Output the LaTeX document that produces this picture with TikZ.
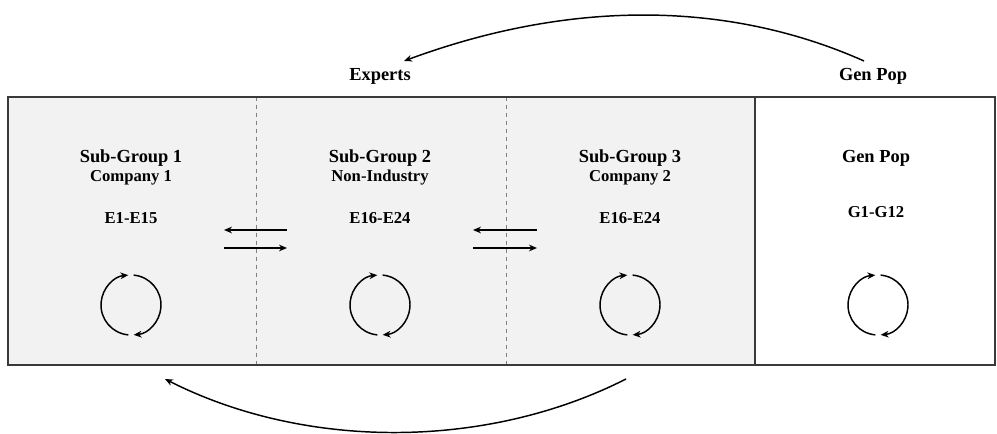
\documentclass[tikz,border=0pt]{standalone}
\usepackage{fontspec}
\setmainfont{Liberation Serif}
\usepackage[dvipsnames, svgnames]{xcolor}
\usepackage{tikz}
\usetikzlibrary{arrows.meta, positioning}

\definecolor{panelgray}{HTML}{F2F2F2}
\definecolor{framegray}{HTML}{3A3A3A}
\definecolor{dashgray}{HTML}{808080}

\tikzset{
  head/.style={font=\bfseries\fontsize{13.8}{16}\selectfont, inner sep=1pt},
  subhead/.style={font=\bfseries\fontsize{12.5}{15}\selectfont, inner sep=1pt},
  flow/.style={line width=1.1pt, -{Stealth[length=6pt, width=5pt]}},
  cyc/.style={line width=1.1pt, -{Stealth[length=6pt, width=5pt]}},
}

\begin{document}
\begin{tikzpicture}[x=0.75pt, y=-0.75pt]
  \useasboundingbox (0,0) rectangle (997,434);

  % panels: experts part is gray, gen pop part stays white
  \fill[panelgray] (8,97) rectangle (755,365);
  \draw[dashgray, dashed, line width=0.6pt] (256,97) -- (256,365);
  \draw[dashgray, dashed, line width=0.6pt] (506,97) -- (506,365);
  \draw[framegray, line width=0.8pt] (755,97) -- (755,365);
  \draw[framegray, line width=1.4pt] (8,97) rectangle (995,365);

  % group labels
  \node[head] (sg1) at (131,158) {Sub-Group 1};
  \node[subhead] (co1) at (131,178) {Company 1};
  \node[subhead] (ex1) at (131,218) {E1-E15};

  \node[head] (sg2) at (380,158) {Sub-Group 2};
  \node[subhead] (co2) at (380,178) {Non-Industry};
  \node[subhead] (ex2) at (380,218) {E16-E24};

  \node[head] (sg3) at (630,158) {Sub-Group 3};
  \node[subhead] (co3) at (630,178) {Company 2};
  \node[subhead] (ex3) at (630,218) {E16-E24};

  \node[head] (gp) at (876,158) {Gen Pop};
  \node[subhead] (gpid) at (876,212) {G1-G12};

  % top labels
  \node[head] (experts) at (380,76) {Experts};
  \node[head] (gptop) at (873,76) {Gen Pop};

  % cycles
  \foreach \cx/\nm in {131/c1, 380/c2, 630/c3, 878/c4} {
    \coordinate (\nm) at (\cx,305);
    \draw[cyc] (\nm) ++(265:22.5pt) arc[start angle=265, end angle=95, radius=22.5pt];
    \draw[cyc] (\nm) ++(85:22.5pt) arc[start angle=85, end angle=-85, radius=22.5pt];
  }

  % exchange arrows
  \coordinate (a1r) at (287,230); \coordinate (a1l) at (224,230);
  \coordinate (b1l) at (224,248); \coordinate (b1r) at (287,248);
  \coordinate (a2r) at (537,230); \coordinate (a2l) at (473,230);
  \coordinate (b2l) at (473,248); \coordinate (b2r) at (537,248);
  \draw[flow] (a1r) -- (a1l);
  \draw[flow] (b1l) -- (b1r);
  \draw[flow] (a2r) -- (a2l);
  \draw[flow] (b2l) -- (b2r);

  % big curves
  \coordinate (topfrom) at (864,61);
  \coordinate (topto) at (404,61);
  \coordinate (botfrom) at (626,379);
  \coordinate (botto) at (165,379);
  \draw[flow] (topfrom) .. controls (727,0) and (569,0) .. (topto);
  \draw[flow] (botfrom) .. controls (486,450) and (305,450) .. (botto);
\end{tikzpicture}
\end{document}
